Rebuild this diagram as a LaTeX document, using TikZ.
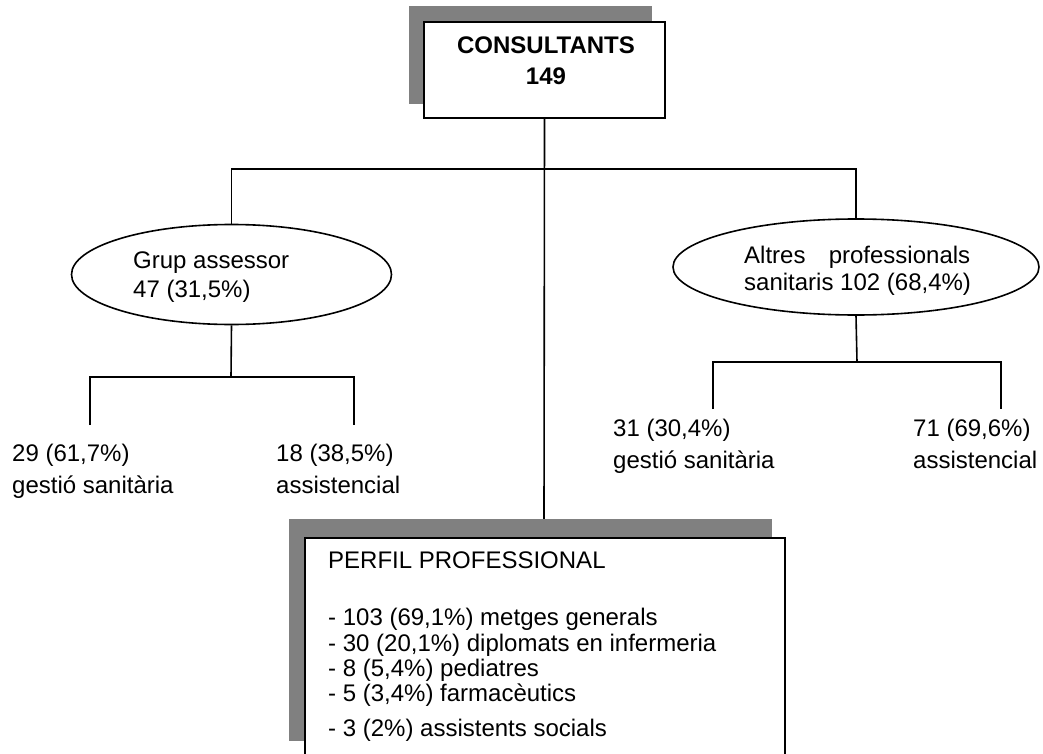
\documentclass[tikz,border=0pt]{standalone}
\usepackage{fontspec}
\setmainfont{Liberation Sans}
\usetikzlibrary{shapes.geometric}
\definecolor{shadowgray}{HTML}{808080}
\tikzset{
  conn/.style={line width=1.6pt},
  shadowfill/.style={fill=shadowgray},
  mainbox/.style={draw, line width=2.2pt, fill=white, rectangle, inner sep=0pt},
  oval/.style={draw, ellipse, line width=1.6pt, fill=white, inner sep=0pt},
  txt/.style={anchor=base west, inner sep=0pt, font=\fontsize{24}{27}\selectfont},
  ctxt/.style={anchor=base, inner sep=0pt, font=\fontsize{24}{27}\selectfont\bfseries},
}
\begin{document}
\begin{tikzpicture}[x=1pt,y=-1pt]
\clip (0,0) rectangle (1043,754);
\fill[white] (0,0) rectangle (1043,754);

% top box
\fill[shadowfill] (409,6) rectangle (652,104);
\node[mainbox, minimum width=241pt, minimum height=96pt] (top) at (544.5,70) {};
\node[ctxt] (t1) at (546,53.6) {CONSULTANTS};
\node[ctxt] (t2) at (546,84.6) {149};

% ellipses
\node[oval, minimum width=320pt, minimum height=100pt] (left) at (231.5,274.5) {};
\node[txt] (g1) at (133,268) {Grup assessor};
\node[txt] (g2) at (133,297) {47 (31,5\%)};

\node[oval, minimum width=366pt, minimum height=96pt] (right) at (856,267) {};
\node[txt] (a1) at (744,263) {\hbox to 226pt{Altres\hfill professionals}};
\node[txt] (a2) at (744,290) {sanitaris 102 (68,4\%)};

% coordinates
\coordinate (hub) at (544,169);
\coordinate (pp) at (544,519);
\coordinate (lj) at (231,377);
\coordinate (ll) at (90,425);
\coordinate (lr) at (354,425);
\coordinate (rj) at (857,362);
\coordinate (rl) at (713,409);
\coordinate (rr) at (1001,409);

% connectors
\draw[conn] (top.south) -- (pp);
\draw[conn] (left.north) -- (left.north |- hub) -- (right.north |- hub) -- (right.north);
\draw[conn] (left.south) -- (lj);
\draw[conn] (ll) -- (ll |- lj) -- (lr |- lj) -- (lr);
\draw[conn] (right.south) -- (rj);
\draw[conn] (rl) -- (rl |- rj) -- (rr |- rj) -- (rr);

% leaf labels
\node[txt] (l1a) at (12,461) {29 (61,7\%)};
\node[txt] (l1b) at (12,493) {gestió sanitària};
\node[txt] (l2a) at (276,461) {18 (38,5\%)};
\node[txt] (l2b) at (276,493) {assistencial};
\node[txt] (r1a) at (613,436) {31 (30,4\%)};
\node[txt] (r1b) at (613,468) {gestió sanitària};
\node[txt] (r2a) at (913,436) {71 (69,6\%)};
\node[txt] (r2b) at (913,468) {assistencial};

% bottom box
\fill[shadowfill] (289,519) rectangle (772,741);
\node[mainbox, minimum width=480pt, minimum height=240pt, anchor=north west] (bottom) at (304,537) {};
\node[txt] (p0) at (328,568) {PERFIL PROFESSIONAL};
\node[txt] (p1) at (328,625) {- 103 (69,1\%) metges generals};
\node[txt] (p2) at (328,651) {- 30 (20,1\%) diplomats en infermeria};
\node[txt] (p3) at (328,676) {- 8 (5,4\%) pediatres};
\node[txt] (p4) at (328,701) {- 5 (3,4\%) farmacèutics};
\node[txt] (p5) at (328,736) {- 3 (2\%) assistents socials};
\end{tikzpicture}
\end{document}
